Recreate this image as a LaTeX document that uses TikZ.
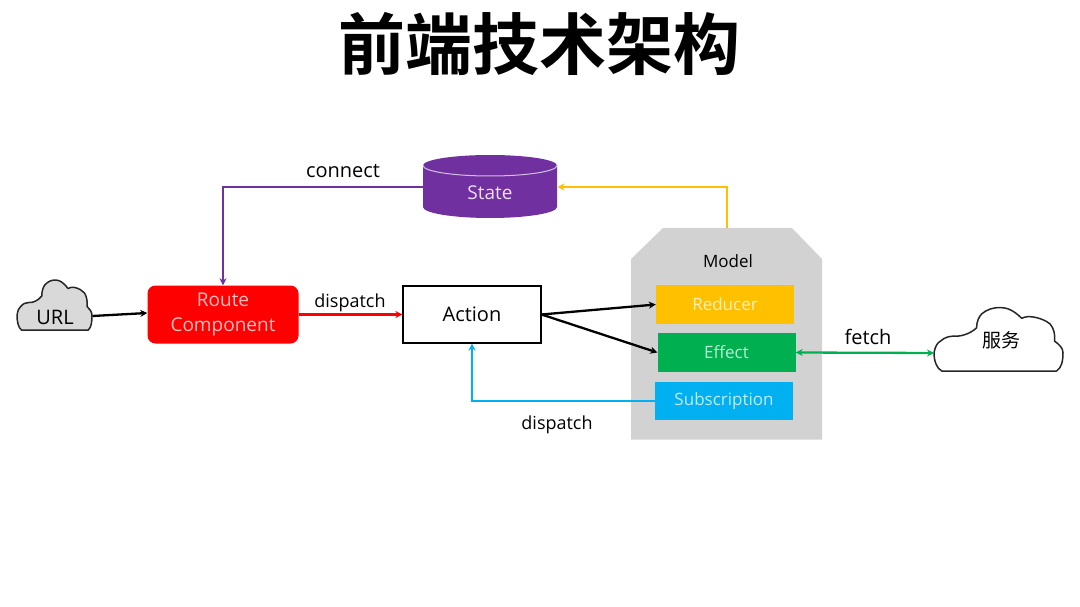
\documentclass[tikz,border=0pt]{standalone}
\usepackage{fontspec}
\setmainfont{Open Sans}
\newfontfamily\cjkfont{Noto Sans CJK SC}
\newfontfamily\cjkbold{Noto Sans CJK SC Bold}
\usetikzlibrary{arrows.meta,calc}
\definecolor{cRed}{HTML}{FF0000}
\definecolor{cYellow}{HTML}{FFC000}
\definecolor{cGreen}{HTML}{00B050}
\definecolor{cBlue}{HTML}{00B0F0}
\definecolor{cPurple}{HTML}{7030A0}
\definecolor{cGrey}{HTML}{D3D2D3}
\definecolor{cCloud}{HTML}{D9D9D9}
\newcommand{\cloudshape}{%
  (0.06,1) .. controls (0.02,0.96) and (0,0.84) .. (0,0.71)
  .. controls (0.01,0.6) and (0.03,0.55) .. (0.05,0.53)
  .. controls (0.08,0.47) and (0.12,0.45) .. (0.16,0.45)
  .. controls (0.2,0.46) and (0.28,0.42) .. (0.33,0.32)
  .. controls (0.33,0.22) and (0.35,0.14) .. (0.37,0.1)
  .. controls (0.41,0.03) and (0.46,0) .. (0.51,0)
  .. controls (0.57,0) and (0.62,0.05) .. (0.68,0.17)
  .. controls (0.71,0.14) and (0.74,0.14) .. (0.77,0.15)
  .. controls (0.83,0.17) and (0.87,0.21) .. (0.9,0.26)
  .. controls (0.93,0.33) and (0.94,0.43) .. (0.935,0.53)
  .. controls (0.97,0.58) and (1,0.64) .. (1,0.71)
  .. controls (1,0.84) and (0.99,0.95) .. (0.95,1) -- cycle}
\tikzset{
  lbl/.style={inner sep=0pt,font=\fontsize{#1}{#1}\selectfont},
  inner/.style={minimum width=138,minimum height=38.5,inner sep=0pt,text=#1!25!white},
  conn/.style={line width=2.3pt,-{Stealth[length=7pt,width=7pt]}},
  cloudline/.style={draw=black!85,line width=1.5pt,line join=round}
}
\begin{document}
\begin{tikzpicture}[x=1pt,y=-1pt]
\useasboundingbox (0,0) rectangle (1080,607);
\node[lbl=67,font=\cjkbold\fontsize{67}{67}\selectfont] (title) at (539,44) {前端技术架构};

% clouds
\begin{scope}[shift={(17,280)},x=75pt,y=-50pt]
  \draw[cloudline,fill=cCloud] \cloudshape;
\end{scope}
\begin{scope}[shift={(934,307.5)},x=129pt,y=-63.5pt]
  \draw[cloudline,fill=white] \cloudshape;
\end{scope}
\node[lbl=20] (url) at (55,317) {URL};
\node[lbl=19,font=\cjkfont\fontsize{19}{19}\selectfont] (svc) at (1001,340) {服务};
\coordinate (urlR) at (92.5,316);
\coordinate (svcL) at (934,353);

% model
\fill[cGrey] (663,228) -- (792,228) -- (822,259) -- (822,439.5) -- (631,439.5) -- (631,259) -- cycle;
\coordinate (modelT) at (727,228);
\node[lbl=17] (modeltxt) at (728,261.5) {Model};
\node[inner=cYellow,fill=cYellow,text depth=0pt,font=\fontsize{17}{17}\selectfont] (red) at (725,304.5) {Reducer};
\node[inner=cGreen,fill=cGreen,font=\fontsize{17}{17}\selectfont] (eff) at (726.5,352.5) {Effect};
\node[inner=cBlue,fill=cBlue,font=\fontsize{17}{17}\selectfont] (sub) at (724,401) {\raisebox{-2.5pt}{Subscription}};

% state cylinder
\fill[cPurple] (423,165.5) -- (423,207) arc[x radius=67,y radius=11,start angle=180,end angle=0] -- (557,165.5) arc[x radius=67,y radius=10.5,start angle=0,end angle=-180] -- cycle;
\draw[white!70!cPurple,line width=1pt] (423,165.5) arc[x radius=67,y radius=10.5,start angle=180,end angle=0];
\node[lbl=19,text=white!85!cPurple] (state) at (490,193) {State};
\coordinate (stateL) at (423,187);
\coordinate (stateR) at (557.5,187);

% boxes
\node[fill=cRed,rounded corners=8pt,minimum width=151,minimum height=58,inner sep=0pt,align=center,text=white!75!cRed,font=\fontsize{19}{25}\selectfont] (route) at (223,314.5) {\raisebox{-2.5pt}{Route}\\\raisebox{-2pt}{Component}};
\node[draw=black,line width=1.1pt,fill=white,minimum width=138,minimum height=57,inner sep=0pt,font=\fontsize{20}{20}\selectfont] (action) at (472,314.5) {Action};

% connectors
\draw[conn,cPurple] (stateL) -| (route.north);
\draw[conn,cYellow] (modelT) |- (stateR);
\draw[conn,cRed] (route.east) -- (action.west);
\draw[conn,black] (action.east) -- (red.west);
\draw[conn,black] (action.east) -- (eff.west);
\draw[conn,cBlue] (sub.west) -| (action.south);
\draw[line width=2.3pt,cGreen,{Stealth[length=7pt,width=7pt]}-{Stealth[length=7pt,width=7pt]}] (eff.east) -- (svcL);
\draw[conn,black] (urlR) -- (route.west |- 0,313);

% labels
\node[lbl=20] (lconnect) at (343,171.5) {connect};
\node[lbl=18] (ldisp1) at (350,302.5) {dispatch};
\node[lbl=18] (ldisp2) at (557,424.5) {dispatch};
\node[lbl=20] (lfetch) at (868,336.5) {fetch};
\end{tikzpicture}
\end{document}
